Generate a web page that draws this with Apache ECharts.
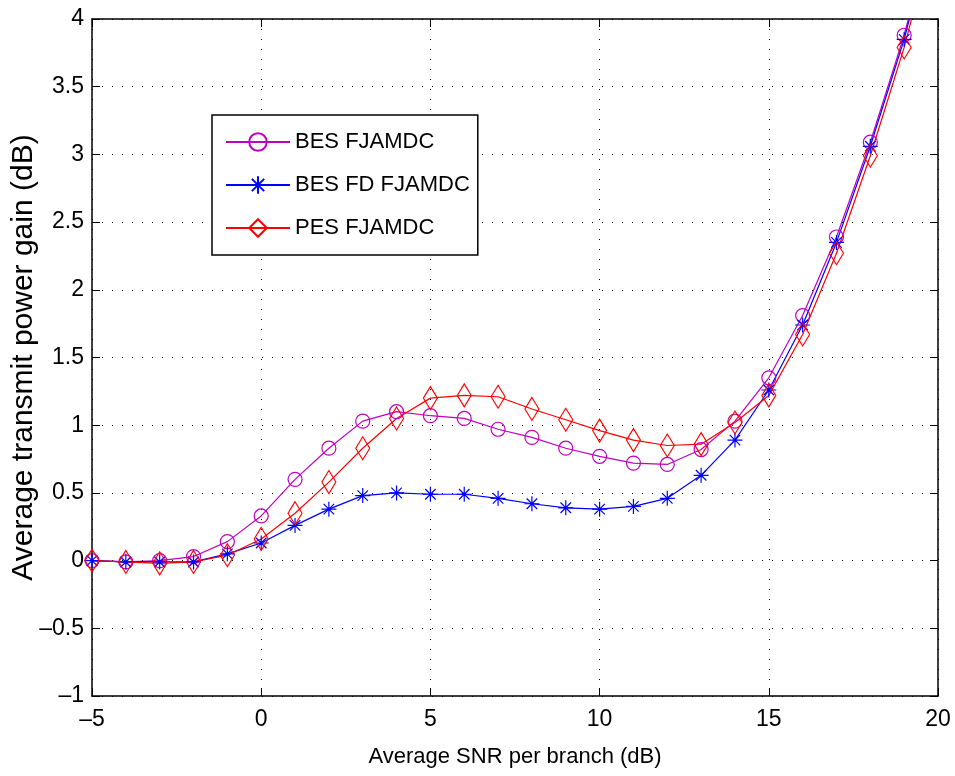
<!DOCTYPE html>
<html>
<head>
<meta charset="utf-8">
<script src="https://cdn.jsdelivr.net/npm/echarts@6/dist/echarts.min.js"></script>
<style>
  * { margin: 0; padding: 0; }
  html, body { background: #fff; }
  #chart { width: 955px; height: 776px; }
</style>
</head>
<body>
<div id="chart"></div>
<script>
// average SNR per branch (dB)
const snr = [-5, -4, -3, -2, -1, 0, 1, 2, 3, 4, 5, 6, 7, 8, 9, 10, 11, 12, 13, 14, 15, 16, 17, 18, 19, 20];

// average transmit power gain (dB)
const besFjamdc = [0, -0.01, 0, 0.03, 0.14, 0.33, 0.6, 0.83, 1.03, 1.1, 1.07, 1.05, 0.97, 0.91, 0.83, 0.77, 0.72, 0.71, 0.82, 1.03, 1.35, 1.81, 2.39, 3.09, 3.88, 4.85];
const besFdFjamdc = [0, -0.01, -0.01, -0.01, 0.05, 0.13, 0.26, 0.38, 0.48, 0.5, 0.49, 0.49, 0.46, 0.42, 0.39, 0.38, 0.4, 0.46, 0.63, 0.89, 1.26, 1.74, 2.35, 3.06, 3.85, 4.82];
const pesFjamdc = [0, -0.01, -0.02, -0.01, 0.04, 0.16, 0.35, 0.58, 0.83, 1.05, 1.2, 1.22, 1.21, 1.12, 1.04, 0.96, 0.89, 0.85, 0.86, 1.02, 1.22, 1.67, 2.27, 2.99, 3.79, 4.75];

const xTicks = [-5, 0, 5, 10, 15, 20];
const yTicks = [-1, -0.5, 0, 0.5, 1, 1.5, 2, 2.5, 3, 3.5, 4];

const FONT = "'Liberation Sans', Arial, sans-serif";
const asterisk = "path://M0,-10L0,10M-10,0L10,0M-7,-7L7,7M-7,7L7,-7";

const pairs = (ys) => snr.map((x, i) => [x, ys[i]]);
const minus = (v) => String(v).replace("-", "\u2013");

const dom = document.getElementById("chart");
const myChart = echarts.init(dom, null, { renderer: "canvas" });

const gridLine = {
  show: true,
  lineStyle: { color: "#000", width: 1, type: [1, 9] },
};
const frame = { show: true, onZero: false, lineStyle: { color: "#000", width: 1.5 } };
const ticks = { show: true, inside: true, length: 8, lineStyle: { color: "#000" } };

const option = {
  backgroundColor: "#fff",
  animation: false,
  grid: { left: 92, right: 17, top: 19, bottom: 80, containLabel: false, outerBoundsMode: "none" },
  legend: {
    orient: "vertical",
    left: 212,
    top: 115,
    padding: [16, 8, 16, 13],
    itemWidth: 64,
    itemHeight: 22,
    itemGap: 21,
    borderColor: "#000",
    borderWidth: 1.5,
    backgroundColor: "#fff",
    textStyle: { fontFamily: FONT, fontSize: 22, color: "#000" },
    data: ["BES FJAMDC", "BES FD FJAMDC", "PES FJAMDC"],
  },
  xAxis: [
    {
      type: "value",
      min: xTicks[0],
      max: xTicks[xTicks.length - 1],
      interval: 5,
      axisLine: frame,
      axisTick: ticks,
      axisLabel: {
        fontFamily: FONT,
        fontSize: 23,
        color: "#000",
        margin: 12,
        formatter: minus,
      },
      splitLine: gridLine,
      name: "Average SNR per branch (dB)",
      nameLocation: "middle",
      nameGap: 50,
      nameMoveOverlap: false,
      nameTextStyle: { fontFamily: FONT, fontSize: 22, color: "#000" },
    },
    {
      type: "value",
      position: "top",
      min: xTicks[0],
      max: xTicks[xTicks.length - 1],
      interval: 5,
      axisLine: frame,
      axisTick: ticks,
      axisLabel: { show: false },
      splitLine: { show: false },
    },
  ],
  yAxis: [
    {
      type: "value",
      min: yTicks[0],
      max: yTicks[yTicks.length - 1],
      interval: 0.5,
      axisLine: frame,
      axisTick: ticks,
      axisLabel: {
        fontFamily: FONT,
        fontSize: 23,
        color: "#000",
        margin: 8,
        formatter: minus,
      },
      splitLine: gridLine,
      name: "Average transmit power gain (dB)",
      nameLocation: "middle",
      nameGap: 53,
      nameMoveOverlap: false,
      nameTextStyle: { fontFamily: FONT, fontSize: 30, color: "#000" },
    },
    {
      type: "value",
      position: "right",
      min: yTicks[0],
      max: yTicks[yTicks.length - 1],
      interval: 0.5,
      axisLine: frame,
      axisTick: ticks,
      axisLabel: { show: false },
      splitLine: { show: false },
    },
  ],
  series: [
    {
      name: "BES FJAMDC",
      type: "line",
      data: pairs(besFjamdc),
      clip: true,
      symbol: "circle",
      symbolSize: 14,
      lineStyle: { color: "#bf00bf", width: 1.2 },
      itemStyle: { color: "rgba(0,0,0,0)", borderColor: "#bf00bf", borderWidth: 1.2 },
    },
    {
      name: "BES FD FJAMDC",
      type: "line",
      data: pairs(besFdFjamdc),
      clip: true,
      symbol: asterisk,
      symbolSize: 15,
      lineStyle: { color: "#0000ff", width: 1.2 },
      itemStyle: { color: "rgba(0,0,0,0)", borderColor: "#0000ff", borderWidth: 1.2 },
    },
    {
      name: "PES FJAMDC",
      type: "line",
      data: pairs(pesFjamdc),
      clip: true,
      symbol: "diamond",
      symbolSize: [14, 23],
      lineStyle: { color: "#ff0000", width: 1.2 },
      itemStyle: { color: "rgba(0,0,0,0)", borderColor: "#ff0000", borderWidth: 1.2 },
    },
  ],
};

myChart.setOption(option);
</script>
</body>
</html>
